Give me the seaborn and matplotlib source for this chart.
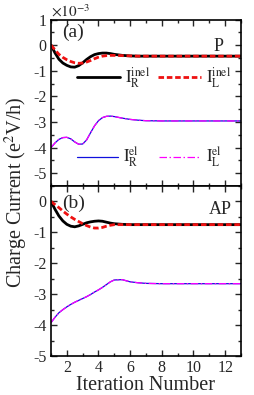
import matplotlib
matplotlib.use("Agg")
import matplotlib.pyplot as plt
import seaborn as sns
from matplotlib.ticker import MultipleLocator

sns.set_theme(style="ticks")
plt.rcParams["font.family"] = ["Liberation Serif", "DejaVu Serif"]
plt.rcParams["mathtext.fontset"] = "stix"
plt.rcParams["axes.unicode_minus"] = False

# iteration grid
iteration = [1, 1.25, 1.5, 1.75, 2, 2.25, 2.5, 2.75, 3, 3.25, 3.5, 3.75, 4,
             4.25, 4.5, 4.75, 5, 5.5, 6, 6.5, 7, 8, 9, 10, 11, 12, 13]

# (a) parallel configuration, units of 1e-3 e^2V/h
p_inel_R = [0, -0.3, -0.55, -0.7, -0.79, -0.85, -0.86, -0.8, -0.69, -0.56, -0.45,
            -0.37, -0.33, -0.31, -0.31, -0.33, -0.36, -0.4, -0.42, -0.43, -0.43,
            -0.43, -0.43, -0.43, -0.43, -0.43, -0.43]
p_inel_L = [0, -0.18, -0.36, -0.48, -0.57, -0.64, -0.69, -0.71, -0.7, -0.66, -0.6,
            -0.53, -0.47, -0.43, -0.41, -0.4, -0.4, -0.41, -0.42, -0.43, -0.43,
            -0.43, -0.43, -0.43, -0.43, -0.43, -0.43]
p_el_R = [-4.0, -3.82, -3.68, -3.61, -3.6, -3.66, -3.78, -3.87, -3.86, -3.7, -3.42,
          -3.15, -2.95, -2.83, -2.78, -2.77, -2.79, -2.85, -2.9, -2.93, -2.95,
          -2.96, -2.96, -2.96, -2.96, -2.96, -2.96]
p_el_L = [-4.0, -3.82, -3.68, -3.61, -3.6, -3.66, -3.78, -3.87, -3.86, -3.7, -3.42,
          -3.15, -2.95, -2.83, -2.78, -2.77, -2.79, -2.85, -2.9, -2.93, -2.95,
          -2.96, -2.96, -2.96, -2.96, -2.96, -2.96]

# (b) antiparallel configuration
ap_inel_R = [0, -0.25, -0.47, -0.63, -0.74, -0.8, -0.82, -0.79, -0.74, -0.69, -0.66,
             -0.64, -0.63, -0.64, -0.67, -0.7, -0.72, -0.74, -0.75, -0.75, -0.75,
             -0.75, -0.75, -0.75, -0.75, -0.75, -0.75]
ap_inel_L = [0, -0.1, -0.2, -0.31, -0.41, -0.5, -0.58, -0.65, -0.72, -0.78, -0.83,
             -0.86, -0.86, -0.84, -0.8, -0.77, -0.75, -0.75, -0.75, -0.75, -0.75,
             -0.75, -0.75, -0.75, -0.75, -0.75, -0.75]
ap_el_R = [-3.92, -3.75, -3.6, -3.5, -3.41, -3.33, -3.26, -3.2, -3.14, -3.08, -3.01,
           -2.93, -2.86, -2.78, -2.69, -2.6, -2.54, -2.53, -2.6, -2.63, -2.65,
           -2.66, -2.66, -2.66, -2.66, -2.66, -2.66]
ap_el_L = [-3.92, -3.75, -3.6, -3.5, -3.41, -3.33, -3.26, -3.2, -3.14, -3.08, -3.01,
           -2.93, -2.86, -2.78, -2.69, -2.6, -2.54, -2.53, -2.6, -2.63, -2.65,
           -2.66, -2.66, -2.66, -2.66, -2.66, -2.66]

labels = [r"$\mathrm{I}_\mathrm{R}^\mathrm{inel}$", r"$\mathrm{I}_\mathrm{L}^\mathrm{inel}$",
          r"$\mathrm{I}_\mathrm{R}^\mathrm{el}$", r"$\mathrm{I}_\mathrm{L}^\mathrm{el}$"]

fig = plt.figure(figsize=(2.55, 3.95), dpi=100)
ax_a = fig.add_axes([0.2, 0.5291, 0.745, 0.4215])
ax_b = fig.add_axes([0.2, 0.0987, 0.745, 0.4304])


def draw(ax, inel_R, inel_L, el_R, el_L):
    sns.lineplot(x=iteration, y=inel_R, ax=ax, color="black", lw=2)
    sns.lineplot(x=iteration, y=inel_L, ax=ax, color="#ee1111", lw=2, dashes=False)
    ax.lines[-1].set_dashes((2, 1))
    sns.lineplot(x=iteration, y=el_R, ax=ax, color="#1010dd", lw=0.9)
    sns.lineplot(x=iteration, y=el_L, ax=ax, color="#ff00ff", lw=0.9)
    ax.lines[-1].set_dashes((6, 2, 1.2, 2))
    ax.set_xlim(1, 13)
    ax.xaxis.set_major_locator(MultipleLocator(2))
    ax.xaxis.set_minor_locator(MultipleLocator(1))
    ax.yaxis.set_major_locator(MultipleLocator(1))
    ax.yaxis.set_minor_locator(MultipleLocator(0.5))
    ax.tick_params(which="both", direction="in", top=True, right=True,
                   labelsize=11.5, width=1, pad=3)
    ax.tick_params(which="major", length=4.5)
    ax.tick_params(which="minor", length=2.5)
    for s in ax.spines.values():
        s.set_linewidth(1.2)
        s.set_color("black")
    return ax.lines[-4:]


lines_a = draw(ax_a, p_inel_R, p_inel_L, p_el_R, p_el_L)
draw(ax_b, ap_inel_R, ap_inel_L, ap_el_R, ap_el_L)

ax_a.set_ylim(-5.5, 1)
ax_a.set_yticks([1, 0, -1, -2, -3, -4, -5])
ax_a.tick_params(axis="x", labelbottom=False)
ax_b.set_ylim(-5, 0.5)
ax_b.set_yticks([0, -1, -2, -3, -4, -5])
ax_b.set_xticklabels([str(int(t)) for t in ax_b.get_xticks()])

leg1 = ax_a.legend(lines_a[:2], labels[:2], ncol=2, loc="center left",
                   bbox_to_anchor=(0.135, 0.649), frameon=False, borderpad=0,
                   borderaxespad=0, handlelength=2.6, handletextpad=0.3,
                   columnspacing=0.45, fontsize=12)
ax_a.add_artist(leg1)
ax_a.legend(lines_a[2:], labels[2:], ncol=2, loc="center left",
            bbox_to_anchor=(0.135, 0.174), frameon=False, borderpad=0,
            borderaxespad=0, handlelength=2.5, handletextpad=0.3,
            columnspacing=1.2, fontsize=12)

ax_a.text(0.118, 0.925, "(a)", transform=ax_a.transAxes, ha="center", va="center", fontsize=14)
ax_a.text(0.88, 0.835, "P", transform=ax_a.transAxes, ha="center", va="center", fontsize=13)
ax_b.text(0.118, 0.897, "(b)", transform=ax_b.transAxes, ha="center", va="center", fontsize=14)
ax_b.text(0.89, 0.859, "AP", transform=ax_b.transAxes, ha="center", va="center", fontsize=13)
ax_a.text(0.0, 1.0, r"$\times10^{-3}$", transform=ax_a.transAxes, ha="left", va="bottom", fontsize=11)

ax_b.set_xlabel("Iteration Number", fontsize=14.5, labelpad=0)
fig.text(0.065, 0.514, r"Charge Current (e$^2$V/h)", rotation=90,
         ha="center", va="center", fontsize=14.5)

fig.savefig("out.png", dpi=100)
